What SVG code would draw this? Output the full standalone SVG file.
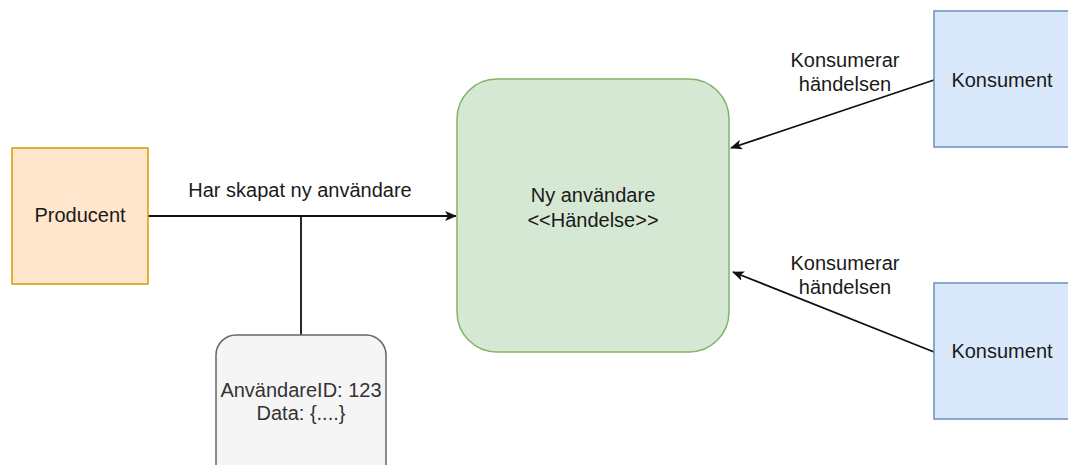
<svg xmlns="http://www.w3.org/2000/svg" width="1068" height="465" viewBox="0 0 1068 465">
  <style>
    text { font-family: "Liberation Sans", Arial, sans-serif; font-size: 20px; fill: #1a1a1a; text-anchor: middle; }
    .edge { fill: none; stroke: #111; stroke-width: 1.8; }
    .grey text { fill: #333333; }
  </style>
  <defs>
    <marker id="arrow" viewBox="0 0 12 10" refX="11" refY="5" markerWidth="12" markerHeight="10" markerUnits="userSpaceOnUse" orient="auto">
      <path d="M0,0 L12,5 L0,10 L3,5 Z" fill="#111"/>
    </marker>
  </defs>
  <rect width="1068" height="465" fill="#ffffff"/>

  <g id="connectors">
    <line class="edge" x1="148" y1="216" x2="456" y2="216" marker-end="url(#arrow)"/>
    <line class="edge" x1="301" y1="216" x2="301" y2="335"/>
    <line class="edge" x1="934" y1="80" x2="731" y2="148" marker-end="url(#arrow)"/>
    <line class="edge" x1="934" y1="352" x2="733" y2="272" marker-end="url(#arrow)"/>
    <text x="300" y="197">Har skapat ny användare</text>
    <text x="845" y="67">Konsumerar</text>
    <text x="845" y="91">händelsen</text>
    <text x="845" y="270">Konsumerar</text>
    <text x="845" y="294">händelsen</text>
  </g>

  <g id="producent">
    <rect x="12" y="148" width="136" height="136" fill="#ffe6cc" stroke="#d79b00" stroke-width="1.5"/>
    <text x="80" y="222">Producent</text>
  </g>

  <g id="handelse">
    <rect x="457" y="79" width="272" height="273" rx="40" ry="40" fill="#d5e8d4" stroke="#82b366" stroke-width="1.5"/>
    <text x="593" y="202">Ny användare</text>
    <text x="593" y="227">&lt;&lt;Händelse&gt;&gt;</text>
  </g>

  <g id="data" class="grey">
    <rect x="216" y="335" width="170" height="150" rx="20" ry="20" fill="#f5f5f5" stroke="#666666" stroke-width="1.5"/>
    <text x="301" y="397">AnvändareID: 123</text>
    <text x="301" y="420">Data: {....}</text>
  </g>

  <g id="konsument1">
    <rect x="934" y="11" width="136" height="136" fill="#dae8fc" stroke="#6c8ebf" stroke-width="1.5"/>
    <text x="1002" y="87">Konsument</text>
  </g>

  <g id="konsument2">
    <rect x="934" y="283" width="136" height="136" fill="#dae8fc" stroke="#6c8ebf" stroke-width="1.5"/>
    <text x="1002" y="358">Konsument</text>
  </g>
</svg>
